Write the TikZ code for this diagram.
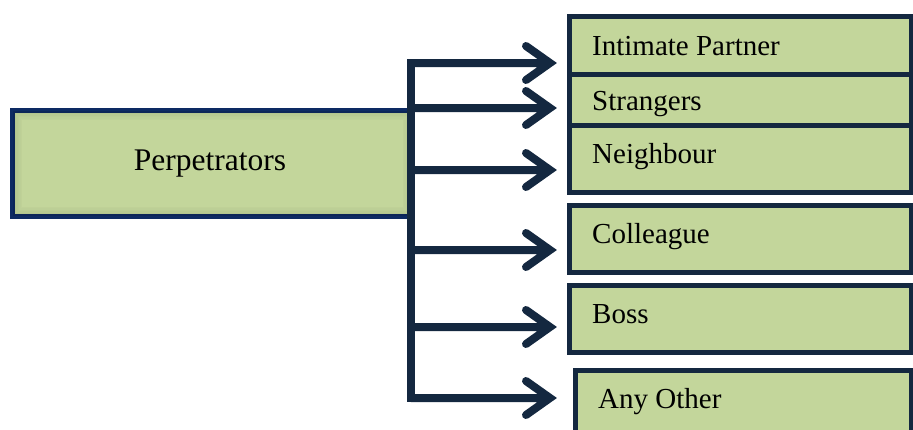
\documentclass[tikz,border=0pt]{standalone}
\usepackage{fontspec}
\setmainfont{Liberation Serif}
\usetikzlibrary{calc}
\definecolor{boxfill}{HTML}{C3D69B}
\definecolor{navy}{HTML}{142840}
\definecolor{pblue}{HTML}{0D2A63}
\tikzset{
  rbox/.style={draw=navy, fill=boxfill, line width=5pt, rectangle, anchor=north west, inner sep=0pt, minimum width=342pt},
  pbox/.style={draw=pblue, fill=boxfill, line width=5pt, rectangle, anchor=north west, inner sep=0pt, minimum width=400pt, minimum height=106pt},
  lbl/.style={anchor=base west, inner sep=0pt, font=\fontsize{29}{31}\selectfont},
  conn/.style={draw=navy, line width=8pt, line join=miter, line cap=round},
  trunk/.style={draw=navy, line width=8pt, line cap=rect}
}
\begin{document}
\begin{tikzpicture}[x=1pt,y=-1pt]
\useasboundingbox (0,0) rectangle (913,429);
% source box
\node[pbox] (perp) at (10,108) {};
\foreach \i/\o in {1/0.10,2/0.08,3/0.06,4/0.045,5/0.03,6/0.02}{
  \draw[black, opacity=\o, line width=1.5pt] ($(perp.north west)+(2.5+\i*1.5,2.5+\i*1.5)$) rectangle ($(perp.south east)+(-2.5-\i*1.5,-2.5-\i*1.5)$);
}
\node[anchor=base, inner sep=0pt, font=\fontsize{31.5}{33}\selectfont] (perptext) at (210,170) {Perpetrators};
% target boxes
\node[rbox, minimum height=58pt] (ip) at (567,14) {};
\node[rbox, minimum height=51pt] (st) at (567,72) {};
\node[rbox, minimum height=67pt] (nb) at (567,123) {};
\node[rbox, minimum height=67pt] (co) at (567,203) {};
\node[rbox, minimum height=67pt] (bo) at (567,283) {};
\node[rbox, minimum height=72pt, minimum width=336pt] (ao) at (573,368) {};
\node[lbl] (ipt) at (592,55) {Intimate Partner};
\node[lbl] (stt) at (592,110) {Strangers};
\node[lbl] (nbt) at (592,163) {Neighbour};
\node[lbl] (cot) at (592,243) {Colleague};
\node[lbl] (bot) at (592,323) {Boss};
\node[lbl] (aot) at (598,408) {Any Other};
% connectors
\foreach \n/\y in {1/63,2/108,3/170,4/250,5/327,6/398}{
  \coordinate (t\n) at (411,\y);
  \coordinate (e\n) at (550,\y);
}
\draw[trunk] (t1) -- (t6);
\foreach \n in {1,...,6}{
  \draw[conn] (t\n) -- (e\n) ++(-24,-17) -- (e\n) -- ++(-24,17);
}
\end{tikzpicture}
\end{document}
